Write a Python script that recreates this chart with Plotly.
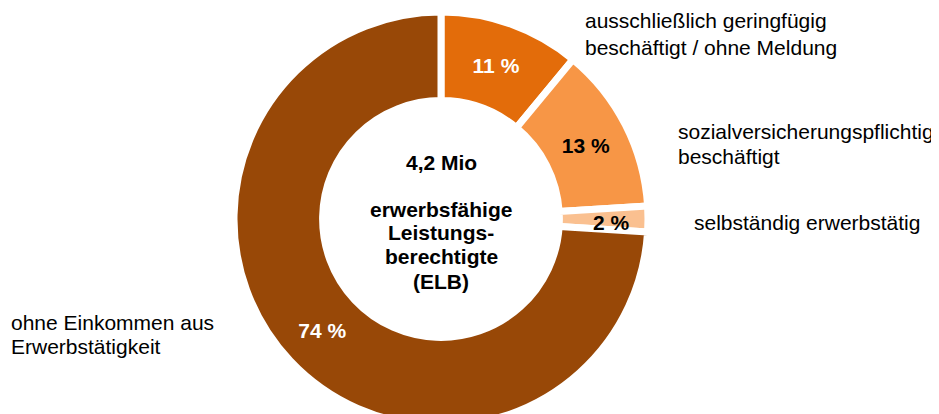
import math
import plotly.graph_objects as go

# Data
categories = [
    "ausschließlich geringfügig<br>beschäftigt / ohne Meldung",
    "sozialversicherungspflichtig<br>beschäftigt",
    "selbständig erwerbstätig",
    "ohne Einkommen aus<br>Erwerbstätigkeit",
]
shares = [11, 13, 2, 74]
pct_labels = [f"{v} %" for v in shares]
colors = ["#E36C0A", "#F79646", "#FAC090", "#984807"]
text_colors = ["white", "black", "black", "white"]
center_lines = ["4,2 Mio", "erwerbsfähige", "Leistungs-", "berechtigte", "(ELB)"]

OFF = 8            # page body margin of the browser
W, H = 939, 418
TOP = 4
R = (H - TOP) / 2
CX = 441 - OFF     # pie centre (figure px)
CY_SCREEN = 219
SMALL = 2          # index of the thin slice whose label is placed by annotation

inside_text = [t if i != SMALL else "" for i, t in enumerate(pct_labels)]

fig = go.Figure(go.Pie(
    values=shares,
    labels=categories,
    text=inside_text,
    textinfo="text",
    textposition="inside",
    insidetextorientation="horizontal",
    textfont=dict(family="Liberation Sans, Arial", size=21, color=text_colors, weight="bold"),
    marker=dict(colors=colors, line=dict(color="white", width=7)),
    hole=0.572,
    sort=False,
    direction="clockwise",
    rotation=0,
    showlegend=False,
    hoverinfo="skip",
    domain=dict(x=[(CX - R) / W, (CX + R) / W], y=[0, 1]),
))

def px_x(sx):
    return (sx - OFF) / W

def px_y(sy):
    return (H - (sy - OFF)) / (H - TOP)

ann = []
# Outer category labels, one annotation per line (screen px: left x, line centres y)
label_pos = [(583, [21, 47]), (676, [131, 156]), (692, [222]), (9, [322, 346])]
for txt, (x, ys) in zip(categories, label_pos):
    for line, y in zip(txt.split("<br>"), ys):
        ann.append(dict(text=line, x=px_x(x), y=px_y(y), xref="paper", yref="paper",
                        xanchor="left", yanchor="middle", align="left", showarrow=False,
                        font=dict(family="Liberation Sans, Arial", size=21, color="black")))

# Label of the thin slice, at its mid angle (derived from the data)
total = sum(shares)
mid = (sum(shares[:SMALL]) + shares[SMALL] / 2) / total * 2 * math.pi
r_lab = 170
lx = 441 + r_lab * math.sin(mid)
ly = CY_SCREEN - r_lab * math.cos(mid) + 3
ann.append(dict(text=pct_labels[SMALL], x=px_x(lx), y=px_y(ly), xref="paper", yref="paper",
                xanchor="center", yanchor="middle", showarrow=False,
                font=dict(family="Liberation Sans, Arial", size=21, color=text_colors[SMALL],
                          weight="bold")))

# Centre text lines
center_y = [162, 209, 233, 257, 281]
for line, y in zip(center_lines, center_y):
    ann.append(dict(text=line, x=px_x(441), y=px_y(y), xref="paper", yref="paper",
                    xanchor="center", yanchor="middle", align="center", showarrow=False,
                    font=dict(family="Liberation Sans, Arial", size=21, color="black",
                              weight="bold")))

fig.update_layout(
    width=W, height=H,
    margin=dict(l=0, r=0, t=TOP, b=0),
    paper_bgcolor="white", plot_bgcolor="white",
    annotations=ann,
    uniformtext=dict(minsize=21, mode="show"),
)

fig.write_html("out.html")
